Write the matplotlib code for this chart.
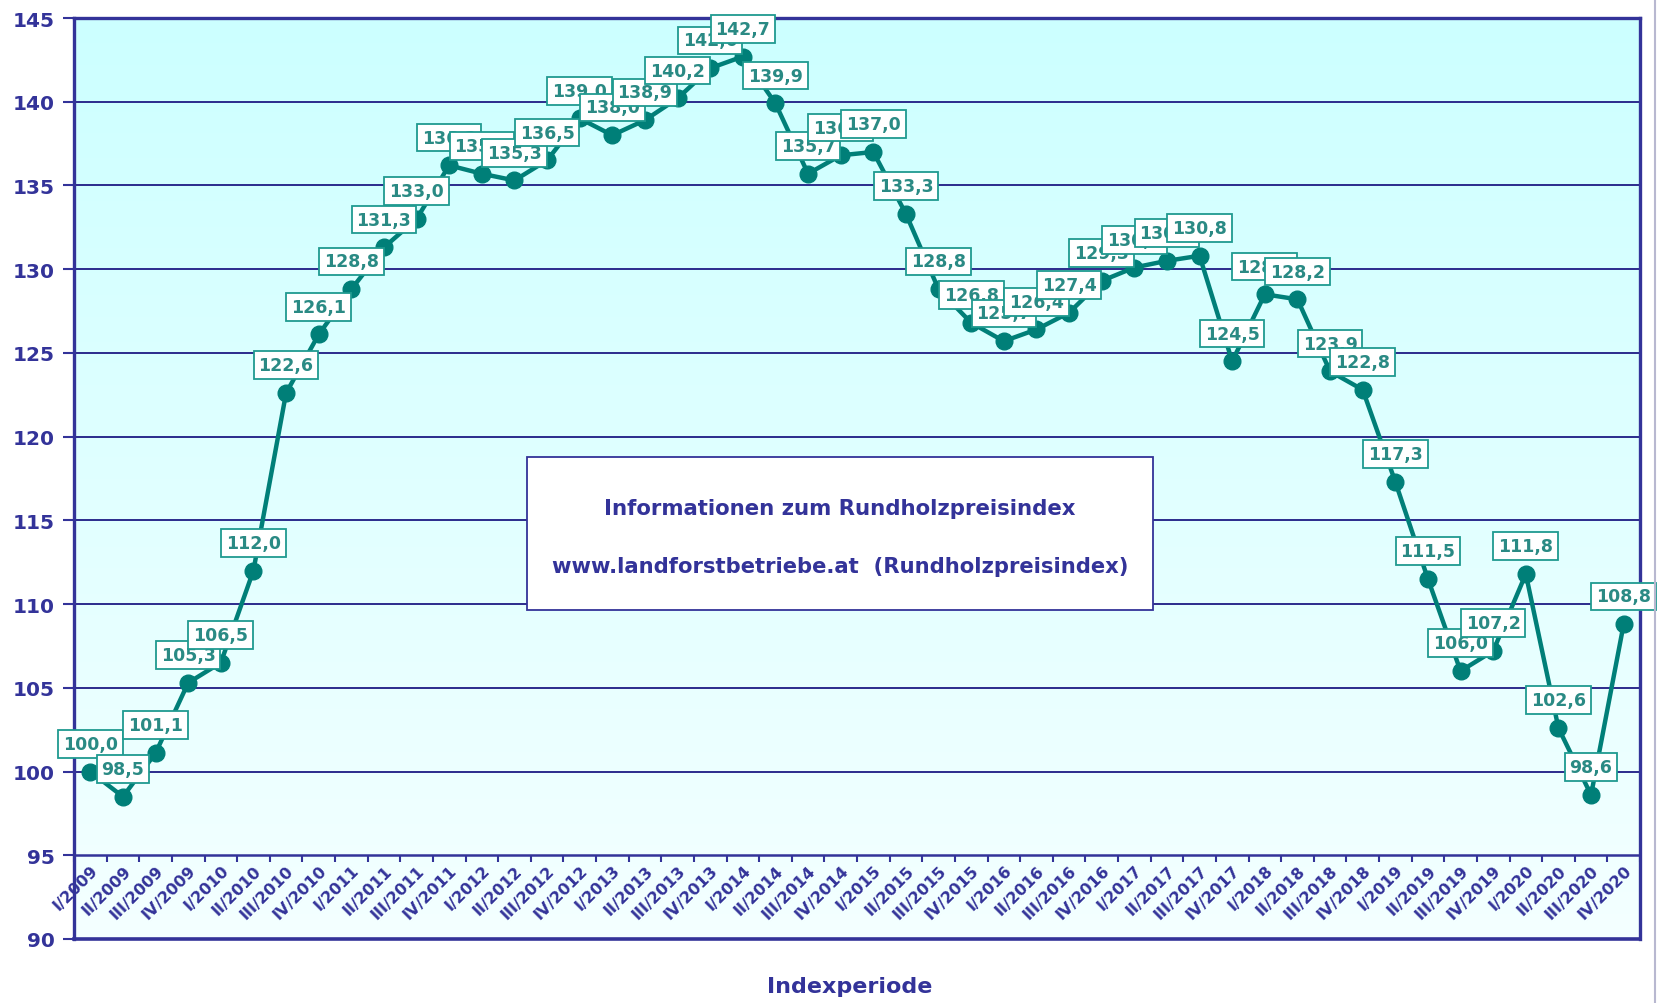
import numpy as np
import matplotlib
matplotlib.use("Agg")
import matplotlib.pyplot as plt
from matplotlib.patches import Rectangle
from matplotlib.lines import Line2D
from matplotlib.colors import LinearSegmentedColormap

periods = ["I/2009", "II/2009", "III/2009", "IV/2009",
           "I/2010", "II/2010", "III/2010", "IV/2010",
           "I/2011", "II/2011", "III/2011", "IV/2011",
           "I/2012", "II/2012", "III/2012", "IV/2012",
           "I/2013", "II/2013", "III/2013", "IV/2013",
           "I/2014", "II/2014", "III/2014", "IV/2014",
           "I/2015", "II/2015", "III/2015", "IV/2015",
           "I/2016", "II/2016", "III/2016", "IV/2016",
           "I/2017", "II/2017", "III/2017", "IV/2017",
           "I/2018", "II/2018", "III/2018", "IV/2018",
           "I/2019", "II/2019", "III/2019", "IV/2019",
           "I/2020", "II/2020", "III/2020", "IV/2020"]

index_values = [100.0, 98.5, 101.1, 105.3, 106.5, 112.0, 122.6, 126.1,
                128.8, 131.3, 133.0, 136.2, 135.7, 135.3, 136.5, 139.0,
                138.0, 138.9, 140.2, 142.0, 142.7, 139.9, 135.7, 136.8,
                137.0, 133.3, 128.8, 126.8, 125.7, 126.4, 127.4, 129.3,
                130.1, 130.5, 130.8, 124.5, 128.5, 128.2, 123.9, 122.8,
                117.3, 111.5, 106.0, 107.2, 111.8, 102.6, 98.6, 108.8]

y_ticks = [90, 95, 100, 105, 110, 115, 120, 125, 130, 135, 140, 145]

info_line1 = "Informationen zum Rundholzpreisindex"
info_line2 = "www.landforstbetriebe.at  (Rundholzpreisindex)"
x_title = "Indexperiode"

NAVY = "#333399"
GRID = "#2b2b8c"
TEAL = "#007f78"
LABEL_TXT = "#2a8a84"
LABEL_EDGE = "#1f9a90"

plt.rcParams['font.family'] = ['DejaVu Sans']

fig = plt.figure(figsize=(16.61, 10.04), dpi=100)
fig.patch.set_facecolor("white")
ax = fig.add_axes([74/1661, 1-940/1004, (1640-74)/1661, (940-19)/1004])

# gradient background
cmap = LinearSegmentedColormap.from_list("bg", ["#f4ffff", "#ccffff"])
grad = np.linspace(0, 1, 256).reshape(-1, 1)
ax.imshow(grad, extent=[0, 1, 0, 1], transform=ax.transAxes, aspect='auto',
          cmap=cmap, origin='lower', zorder=0)

x = np.arange(len(periods))

# grid lines
for yv in y_ticks[2:-1]:
    ax.axhline(yv, color=GRID, lw=1.4, zorder=1)

ax.plot(x, index_values, color=TEAL, lw=3.2, marker='o', markersize=12,
        markerfacecolor=TEAL, markeredgecolor=TEAL, zorder=3)

for xi, v in zip(x, index_values):
    ann = ax.annotate(f"{v:.1f}".replace('.', ','), (xi, v), xytext=(0, 20),
                      textcoords='offset points', ha='center', va='center',
                      fontsize=12.5, fontweight='bold', color=LABEL_TXT,
                      annotation_clip=False,
                      bbox=dict(boxstyle='square,pad=0.28', fc='white',
                                ec=LABEL_EDGE, lw=1.3))
    ann.set_zorder(10)

ax.set_xlim(-0.5, len(periods) - 0.5)
ax.set_ylim(90, 145)

# spines
for s in ['top', 'left', 'right']:
    ax.spines[s].set_color(NAVY)
    ax.spines[s].set_linewidth(2.4)
ax.spines['bottom'].set_position(('data', 95))
ax.spines['bottom'].set_color(NAVY)
ax.spines['bottom'].set_linewidth(1.8)
ax.add_line(Line2D([0, 1], [0, 0], transform=ax.transAxes, color=NAVY,
                   lw=2.6, clip_on=False, zorder=6))

# y ticks
ax.set_yticks(y_ticks)
ax.set_yticklabels([str(t) for t in y_ticks], fontsize=14.5,
                   fontweight='bold', color=NAVY)
ax.tick_params(axis='y', length=8, width=1.5, color=NAVY, pad=6)

# x ticks: marks at boundaries, labels at centers
ax.set_xticks(np.arange(len(periods) + 1) - 0.5)
ax.set_xticklabels([])
ax.tick_params(axis='x', which='major', length=5, width=1.5, color=NAVY,
               direction='out')
ax.set_xticks(x, minor=True)
ax.set_xticklabels(periods, minor=True, rotation=45, ha='right', va='top',
                   rotation_mode='anchor', fontsize=11.5, fontweight='bold',
                   color=NAVY)
ax.tick_params(axis='x', which='minor', length=0, pad=5)

# info box
ax.add_patch(Rectangle((0.2893, 0.3572), 0.689 - 0.2893, 0.5233 - 0.3572,
                       transform=ax.transAxes, fc='white', ec=NAVY, lw=1.3,
                       zorder=11))
ax.text(0.489, 0.4685, info_line1, transform=ax.transAxes, ha='center',
        va='center', fontsize=15.3, fontweight='bold', color=NAVY, zorder=12)
ax.text(0.489, 0.4053, info_line2, transform=ax.transAxes, ha='center',
        va='center', fontsize=15.2, fontweight='bold', color=NAVY, zorder=12)

fig.text(850/1661, 1-987/1004, x_title, ha='center', va='center',
         fontsize=16, fontweight='bold', color=NAVY)

fig.add_artist(Line2D([1655/1661, 1655/1661], [0, 1], color="#b8b8d0",
                      lw=1.5))

fig.savefig("out.png", dpi=100)
